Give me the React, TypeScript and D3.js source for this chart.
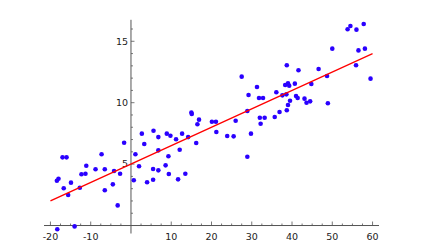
import React from "react";
import * as d3 from "d3";

const pointsX = [
  -1.7, -17.0, -16.0, -7.3, -11.1, -8.8, -6.5, -12.3, -11.3, -4.2, -2.7, -18.0, -18.4, -14.9, -16.7, -12.7, -4.5, -6.5, -15.6, -3.3, -18.3, -14.0,
  15.0, 15.1, 16.9, 16.5, 20.1, 21.1, 21.2, 2.7, 5.6, 8.9, 9.8, 6.8, 3.3, 12.7, 11.2, 14.2, 16.2, 6.8, 12.1, 1.1, 9.3, 2.0, 8.6, 5.5, 6.8, 9.4, 13.5, 0.7, 4.0, 5.5, 11.7,
  38.7, 41.6, 27.5, 31.3, 38.3, 39.0, 39.3, 40.7, 36.1, 29.2, 31.8, 32.8, 37.6, 38.6, 41.0, 41.4, 39.5, 39.0, 38.7, 36.9, 28.9, 26.0, 32.0, 33.2, 35.7, 32.2, 23.9, 25.5, 29.8, 28.9,
  53.8, 54.5, 56.0, 57.8, 50.0, 56.5, 58.1, 55.9, 59.5, 46.6, 48.7, 44.8, 43.1, 43.6, 44.5, 48.9,
];
const pointsY = [
  6.74, 5.55, 5.55, 5.8, 4.87, 4.58, 4.58, 4.17, 4.22, 4.44, 4.22, 3.81, 3.65, 3.49, 3.03, 3.08, 3.35, 2.87, 2.48, 1.64, -0.31, -0.07,
  9.2, 9.08, 8.62, 8.24, 8.45, 8.45, 7.61, 7.48, 7.72, 7.48, 7.31, 7.2, 6.64, 7.48, 7.02, 7.2, 6.72, 6.12, 6.17, 5.8, 5.64, 4.82, 4.9, 4.6, 4.49, 4.19, 4.22, 3.68, 3.52, 3.73, 3.76,
  13.05, 12.64, 12.12, 11.28, 11.44, 11.58, 11.38, 11.55, 10.85, 10.63, 10.38, 10.38, 10.6, 10.68, 10.55, 10.38, 10.16, 9.81, 9.38, 9.24, 9.32, 8.53, 8.78, 8.78, 8.84, 8.29, 7.29, 7.26, 7.48, 5.6,
  15.98, 16.25, 15.95, 16.41, 14.4, 14.26, 14.4, 13.05, 11.96, 12.74, 12.17, 11.52, 10.33, 10.0, 10.11, 9.95,
];
const lineX = [-20, 60];
const lineY = [2, 14];
const xTickLabels = [-20, -10, 10, 20, 30, 40, 50, 60];
const yTickLabels = [5, 10, 15];

export default function App() {
  const W = 431, H = 252;
  const x = d3.scaleLinear().domain([-21.6, 61.6]).range([44, 379]);
  const y = d3.scaleLinear().domain([-0.65, 16.75]).range([233.5, 19.8]);
  const x0 = x(0), y0 = y(0);
  const xMinor = d3.range(-20, 61, 2.5).filter((v) => v % 10 !== 0);
  const yMinor = d3.range(1, 17, 1).filter((v) => v % 5 !== 0);
  const line = d3.line<number>().x((d) => x(lineX[d])).y((d) => y(lineY[d]));
  const axisColor = "#555";
  const font = "DejaVu Sans, sans-serif";
  return (
    <svg width={W} height={H} style={{ position: "absolute", left: 0, top: 0, background: "#fff" }}>
      <line x1={x.range()[0]} x2={x.range()[1]} y1={y0} y2={y0} stroke={axisColor} strokeWidth={1} />
      <line x1={x0} x2={x0} y1={y.range()[0]} y2={y.range()[1]} stroke={axisColor} strokeWidth={1} />
      {xMinor.map((v) => (
        <line key={"xm" + v} x1={x(v)} x2={x(v)} y1={y0} y2={y0 - 2} stroke={axisColor} strokeWidth={0.8} />
      ))}
      {xTickLabels.map((v) => (
        <g key={"xt" + v}>
          <line x1={x(v)} x2={x(v)} y1={y0} y2={y0 - 4} stroke={axisColor} strokeWidth={0.8} />
          <text x={x(v)} y={239.5} textAnchor="middle" fontFamily={font} fontSize={9.5} fill="#222">
            {String(v)}
          </text>
        </g>
      ))}
      {yMinor.map((v) => (
        <line key={"ym" + v} x1={x0} x2={x0 + 2} y1={y(v)} y2={y(v)} stroke={axisColor} strokeWidth={0.8} />
      ))}
      {yTickLabels.map((v) => (
        <g key={"yt" + v}>
          <line x1={x0} x2={x0 + 3.5} y1={y(v)} y2={y(v)} stroke={axisColor} strokeWidth={0.8} />
          <text x={x0 - 3} y={y(v)} dy="0.35em" textAnchor="end" fontFamily={font} fontSize={9.5} fill="#222">
            {String(v)}
          </text>
        </g>
      ))}
      {pointsX.map((px, i) => (
        <circle key={"p" + i} cx={x(px)} cy={y(pointsY[i])} r={2.3} fill="#2a00ff" />
      ))}
      <path d={line([0, 1]) || ""} fill="none" stroke="#ff0000" strokeWidth={1.3} />
    </svg>
  );
}
